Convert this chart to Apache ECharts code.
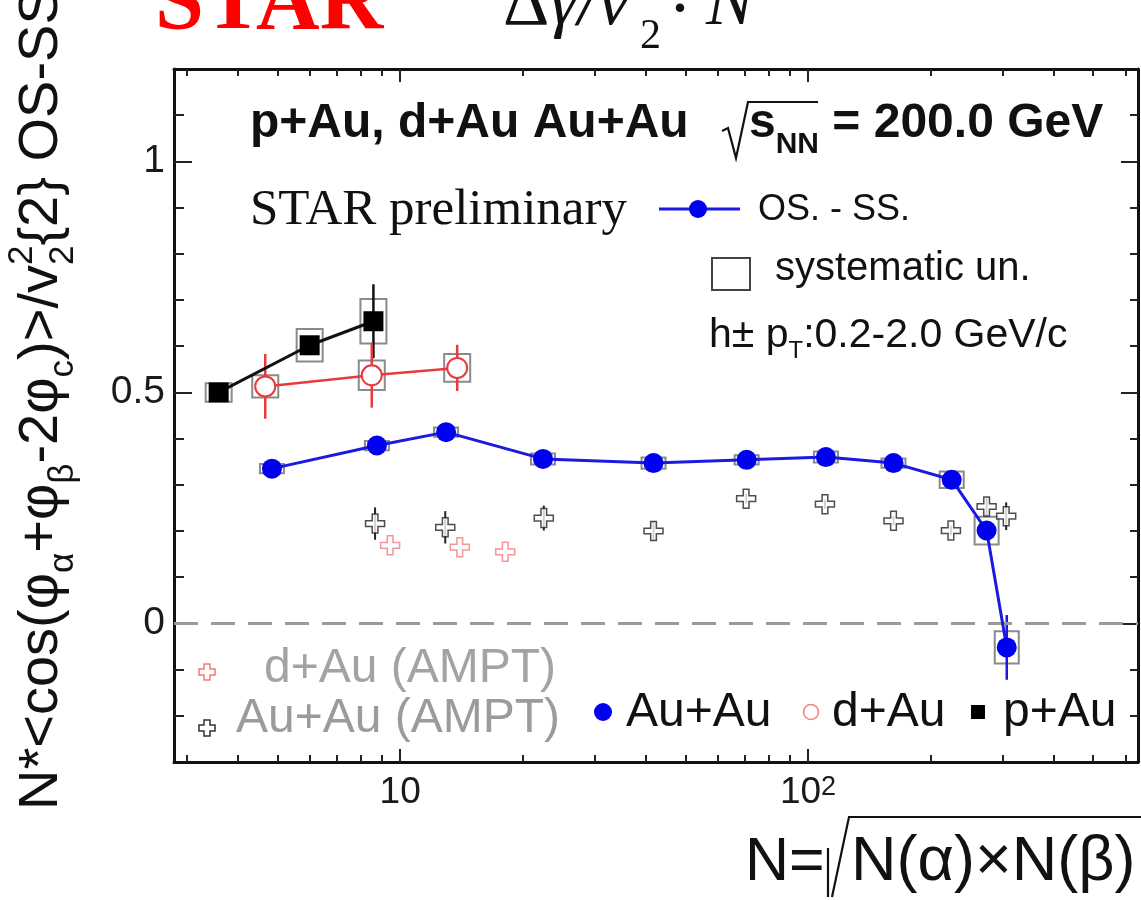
<!DOCTYPE html>
<html><head><meta charset="utf-8">
<script src="https://cdn.jsdelivr.net/npm/echarts@6/dist/echarts.min.js"></script>
<style>html,body{margin:0;padding:0;background:#fff;overflow:hidden}#c{width:1141px;height:900px}</style>
</head><body><div id="c"></div>
<script>
// ---------------- data ----------------
const auauN    = [4.85, 8.77, 12.96, 22.4, 41.8, 70.7, 110.6, 162, 225, 274, 307];
const auauV    = [0.335, 0.385, 0.414, 0.356, 0.347, 0.354, 0.360, 0.347, 0.311, 0.201, -0.052];
const auauStat = [0.01, 0.01, 0.01, 0.01, 0.01, 0.01, 0.01, 0.01, 0.012, 0.02, 0.07];
const auauSys  = [0.01, 0.01, 0.01, 0.012, 0.012, 0.01, 0.012, 0.01, 0.018, 0.03, 0.035];

const dauN    = [4.67, 8.52, 13.8];
const dauV    = [0.513, 0.537, 0.553];
const dauStat = [0.07, 0.07, 0.05];
const dauSys  = [0.024, 0.032, 0.03];

const pauN    = [3.59, 6.0, 8.6];
const pauV    = [0.50, 0.602, 0.654];
const pauStat = [0.01, 0.015, 0.08];
const pauSys  = [0.02, 0.035, 0.048];

const amptAuN   = [8.68, 12.9, 22.5, 41.8, 70.5, 110, 162, 224, 274, 306];
const amptAuV   = [0.216, 0.208, 0.228, 0.200, 0.270, 0.258, 0.222, 0.201, 0.253, 0.232];
const amptAuErr = [0.035, 0.035, 0.027, 0.02, 0.01, 0.01, 0.01, 0.01, 0.02, 0.03];

const amptDAuN = [9.45, 14.0, 18.1];
const amptDAuV = [0.169, 0.165, 0.155];

const X_MIN = 2.79, X_MAX = 644;
const Y_MIN = -0.3, Y_MAX = 1.2;
const xMajorTicks = [10, 100];
const xMinorTicks = [3,4,5,6,7,8,9,20,30,40,50,60,70,80,90,200,300,400,500,600];
const yMajorTicks = [0, 0.5, 1];
const yMinorTicks = [-0.2,-0.1,0.1,0.2,0.3,0.4,0.6,0.7,0.8,0.9,1.1];

// ---------------- helpers ----------------
const SANS = 'Liberation Sans', SERIF = 'Liberation Serif';
const mctx = document.createElement('canvas').getContext('2d');
function fontStr(p){ return (p.style||'normal')+' '+(p.weight||'normal')+' '+p.fs+'px "'+(p.family||SANS)+'"'; }
function runs(x, y, rot, parts){
  const children = []; let cx = 0;
  parts.forEach(p => {
    mctx.font = fontStr(p);
    const w = mctx.measureText(p.t).width;
    children.push({type:'text', x: cx + (p.dx||0), y: (p.dy||0) - 0.345*p.fs, silent:true,
      style:{text:p.t, fontSize:p.fs, fontFamily:p.family||SANS, fontWeight:p.weight||'normal',
             fontStyle:p.style||'normal', fill:p.color||'#111', align:'left', verticalAlign:'middle'}});
    if(!p.noAdvance) cx += w + (p.dx||0);
  });
  return {type:'group', x:x, y:y, rotation:rot||0, children:children, silent:true};
}
function crossPts(cx, cy, h, a){
  return [[cx-a,cy-h],[cx+a,cy-h],[cx+a,cy-a],[cx+h,cy-a],[cx+h,cy+a],[cx+a,cy+a],[cx+a,cy+h],[cx-a,cy+h],[cx-a,cy+a],[cx-h,cy+a],[cx-h,cy-a],[cx-a,cy-a]];
}
function zip3(a,b,c){ return a.map((v,i)=>[v,b[i],c?c[i]:0]); }
function sysSeries(data, halfW){
  return {type:'custom', xAxisIndex:0, yAxisIndex:0, silent:true, z:2,
    dimensions:['x','y','e'], encode:{x:0,y:1}, data:data,
    renderItem:function(params, api){
      const x=api.value(0), y=api.value(1), e=api.value(2);
      const p1=api.coord([x,y+e]), p2=api.coord([x,y-e]);
      return {type:'rect', shape:{x:p1[0]-halfW, y:p1[1], width:2*halfW, height:p2[1]-p1[1]},
              style:{fill:'none', stroke:'#8a8a8a', lineWidth:2}};
    }};
}
function errSeries(data, color, lw){
  return {type:'custom', xAxisIndex:0, yAxisIndex:0, silent:true, z:3,
    dimensions:['x','y','e'], encode:{x:0,y:1}, data:data,
    renderItem:function(params, api){
      const x=api.value(0), y=api.value(1), e=api.value(2);
      const p1=api.coord([x,y+e]), p2=api.coord([x,y-e]);
      return {type:'line', shape:{x1:p1[0], y1:p1[1], x2:p2[0], y2:p2[1]},
              style:{stroke:color, lineWidth:lw}};
    }};
}
const CROSS = 'path://M35,0 H65 V35 H100 V65 H65 V100 H35 V65 H0 V35 H35 Z';

const axCol = '#111';
function xAx(pos, major){
  return {type:'log', logBase:10, min:X_MIN, max:X_MAX, position:pos, gridIndex:0,
    axisLine:{show:major, onZero:false, lineStyle:{color:axCol, width:3}},
    axisTick:{show:true, inside:true, length: major?13:7, lineStyle:{color:'#222', width:2},
              customValues: major? xMajorTicks : xMinorTicks},
    axisLabel:{show: major && pos==='bottom', customValues:xMajorTicks, margin:12,
      fontSize:37, fontFamily:SANS, color:'#1a1a1a',
      formatter:function(v){ if(Math.abs(v-10)<1e-6) return '{b|10}'; if(Math.abs(v-100)<1e-4) return '{b|10}{s|2}'; return ''; },
      rich:{b:{fontSize:37, fontFamily:SANS, color:'#1a1a1a'}, s:{fontSize:27, fontFamily:SANS, color:'#1a1a1a', verticalAlign:'top', lineHeight:18}}},
    splitLine:{show:false}, minorTick:{show:false}, axisPointer:{show:false}};
}
function yAx(pos, major){
  return {type:'value', min:Y_MIN, max:Y_MAX, position:pos, gridIndex:0,
    axisLine:{show:major, onZero:false, lineStyle:{color:axCol, width:3}},
    axisTick:{show:true, inside:true, length: major?(pos==='left'?18:17):(pos==='left'?10:8), lineStyle:{color:'#222', width:2},
              customValues: major? yMajorTicks : yMinorTicks},
    axisLabel:{show: major && pos==='left', customValues:yMajorTicks, margin:9,
      fontSize:39, fontFamily:SANS, color:'#1a1a1a',
      formatter:function(v){ if(Math.abs(v)<1e-6) return '0'; if(Math.abs(v-0.5)<1e-6) return '0.5'; if(Math.abs(v-1)<1e-6) return '1'; return ''; }},
    splitLine:{show:false}, axisPointer:{show:false}};
}

// ---------------- graphics (texts / legend) ----------------
const g = [];
// top title
g.push(runs(155, 36, 0, [{t:'STAR', fs:88, weight:'bold', family:SERIF, color:'#ff0000'}]));
g.push(runs(503, 30, 0, [{t:'Δ', fs:72, family:SERIF}, {t:'γ/v', fs:72, family:SERIF, style:'italic'}]));
g.push(runs(640, 51, 0, [{t:'2', fs:42, family:SERIF}]));
g.push(runs(668, 38, 0, [{t:'·', fs:72, family:SERIF}]));
g.push(runs(706, 30, 0, [{t:'N', fs:72, family:SERIF, style:'italic'}]));
// header
g.push(runs(250, 140, 0, [{t:'p+Au, d+Au Au+Au', fs:48, weight:'bold'}]));
g.push({type:'polyline', silent:true, shape:{points:[[722,131],[728,128],[736,158],[748,102],[818,102]]}, style:{stroke:'#111', lineWidth:2.2, fill:'none'}});
g.push(runs(749, 140, 0, [{t:'s', fs:48, weight:'bold'}, {t:'NN', fs:30, weight:'bold', dy:15}, {t:' = 200.0 GeV', fs:48, weight:'bold'}]));
// STAR preliminary + legend
g.push(runs(250, 228, 0, [{t:'STAR preliminary', fs:51, family:SERIF}]));
g.push({type:'line', silent:true, shape:{x1:659, y1:209, x2:740, y2:209}, style:{stroke:'#1a1ae0', lineWidth:3}});
g.push({type:'circle', silent:true, shape:{cx:698, cy:209, r:9}, style:{fill:'#0000f0'}});
g.push(runs(758, 222, 0, [{t:'OS. - SS.', fs:36}]));
g.push({type:'rect', silent:true, shape:{x:712, y:258, width:38, height:32}, style:{fill:'none', stroke:'#444', lineWidth:2}});
g.push(runs(775, 283, 0, [{t:'systematic un.', fs:40}]));
g.push(runs(709, 350, 0, [{t:'h± p', fs:41}, {t:'T', fs:24, dy:10}, {t:':0.2-2.0 GeV/c', fs:41}]));
// bottom-left AMPT legend
g.push({type:'polygon', silent:true, shape:{points:crossPts(207,672,8,3)}, style:{fill:'#fff', stroke:'#f07c7c', lineWidth:1.5}});
g.push(runs(264, 685, 0, [{t:'d+Au (AMPT)', fs:48, color:'#a3a3a3'}]));
g.push({type:'polygon', silent:true, shape:{points:crossPts(207,728,8,3)}, style:{fill:'#fff', stroke:'#333', lineWidth:1.5}});
g.push(runs(236, 735, 0, [{t:'Au+Au (AMPT)', fs:48, color:'#9b9b9b'}]));
// bottom-right data legend
g.push({type:'circle', silent:true, shape:{cx:603, cy:712, r:9}, style:{fill:'#0000f0'}});
g.push(runs(626, 729, 0, [{t:'Au+Au', fs:48}]));
g.push({type:'circle', silent:true, shape:{cx:811, cy:712, r:7.5}, style:{fill:'none', stroke:'#f08080', lineWidth:1.5}});
g.push(runs(832, 729, 0, [{t:'d+Au', fs:48}]));
g.push({type:'rect', silent:true, shape:{x:971, y:705, width:14, height:14}, style:{fill:'#000'}});
g.push(runs(1003, 729, 0, [{t:'p+Au', fs:48}]));
// y-axis title (rotated)
g.push(runs(61, 810, Math.PI/2, [
  {t:'N*<cos(φ', fs:56}, {t:'α', fs:35, dy:14}, {t:'+φ', fs:56}, {t:'β', fs:35, dy:14},
  {t:'-2φ', fs:56}, {t:'c', fs:35, dy:14}, {t:')>/v', fs:56},
  {t:'2', fs:35, dy:-27, noAdvance:true}, {t:'2', fs:35, dy:14}, {t:'{2} OS-SS', fs:56}
]));
// x-axis title
g.push(runs(745, 884, 0, [{t:'N=', fs:61}]));
g.push({type:'polyline', silent:true, shape:{points:[[828,848],[828,897]]}, style:{stroke:'#111', lineWidth:2.2, fill:'none'}});
g.push({type:'polyline', silent:true, shape:{points:[[832,897],[849,817],[1160,817]]}, style:{stroke:'#111', lineWidth:2.2, fill:'none'}});
g.push(runs(851, 884, 0, [{t:'N(α)×N(β)', fs:63}]));

// ---------------- chart ----------------
const chart = echarts.init(document.getElementById('c'), null, {renderer:'canvas'});
chart.setOption({
  backgroundColor:'#fff',
  animation:false,
  grid:{left:174, right:3, top:69, bottom:138, containLabel:false, outerBoundsMode:'none'},
  xAxis:[xAx('bottom',true), xAx('bottom',false), xAx('top',true), xAx('top',false)],
  yAxis:[yAx('left',true), yAx('left',false), yAx('right',true), yAx('right',false)],
  series:[
    sysSeries(zip3(pauN,pauV,pauSys), 13),
    sysSeries(zip3(dauN,dauV,dauSys), 13),
    sysSeries(zip3(auauN,auauV,auauSys), 12),
    {type:'line', xAxisIndex:0, yAxisIndex:0, silent:true, data:[], symbol:'none',
     markLine:{silent:true, symbol:['none','none'], label:{show:false}, animation:false,
       lineStyle:{color:'#9a9a9a', width:3, type:[24,13]}, data:[{yAxis:0}]}},
    errSeries(zip3(amptAuN,amptAuV,amptAuErr), '#222', 2),
    errSeries(zip3(pauN,pauV,pauStat), '#111', 2.5),
    errSeries(zip3(dauN,dauV,dauStat), '#e83a3a', 2.5),
    errSeries(zip3(auauN,auauV,auauStat), '#1a1ae0', 2.5),
    {type:'scatter', xAxisIndex:0, yAxisIndex:0, silent:true, z:4, symbol:CROSS, symbolSize:19,
     itemStyle:{color:'#fff', borderColor:'#222', borderWidth:1.5}, data:amptAuN.map((v,i)=>[v,amptAuV[i]])},
    {type:'scatter', xAxisIndex:0, yAxisIndex:0, silent:true, z:4, symbol:CROSS, symbolSize:19,
     itemStyle:{color:'#fff', borderColor:'#f07c7c', borderWidth:1.5}, data:amptDAuN.map((v,i)=>[v,amptDAuV[i]])},
    {type:'line', xAxisIndex:0, yAxisIndex:0, silent:true, z:5, symbol:'rect', symbolSize:20, showAllSymbol:true,
     itemStyle:{color:'#000'}, lineStyle:{color:'#111', width:3}, data:pauN.map((v,i)=>[v,pauV[i]])},
    {type:'line', xAxisIndex:0, yAxisIndex:0, silent:true, z:5, symbol:'emptyCircle', symbolSize:20, showAllSymbol:true,
     itemStyle:{color:'#e83a3a', borderColor:'#e83a3a', borderWidth:2}, lineStyle:{color:'#e83a3a', width:2.5}, data:dauN.map((v,i)=>[v,dauV[i]])},
    {type:'line', xAxisIndex:0, yAxisIndex:0, silent:true, z:5, symbol:'circle', symbolSize:20, showAllSymbol:true,
     itemStyle:{color:'#0000f0'}, lineStyle:{color:'#1a1ae0', width:3}, data:auauN.map((v,i)=>[v,auauV[i]])}
  ],
  graphic:{elements:g}
});
</script></body></html>
